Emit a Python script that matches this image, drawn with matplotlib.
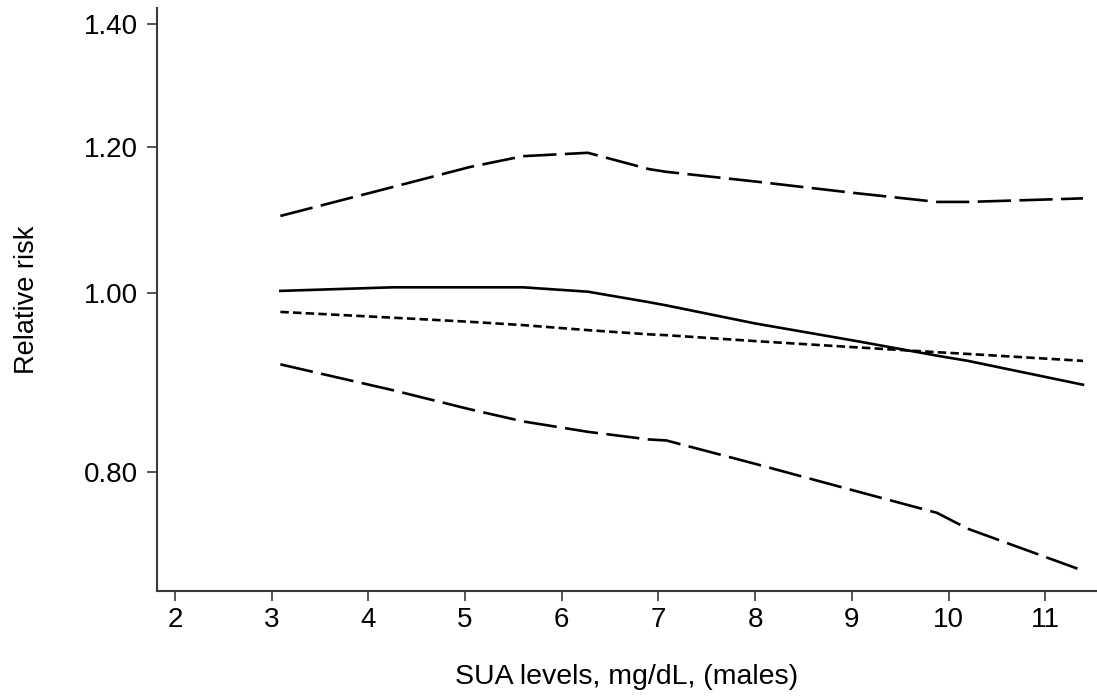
import numpy as np
import matplotlib.pyplot as plt
from matplotlib.ticker import FixedLocator, FixedFormatter, NullLocator

plt.rcParams['font.family'] = ['Liberation Sans', 'DejaVu Sans']

# SUA levels (mg/dL) at which the curves were read
sua = [3.09, 4.25, 5.05, 5.6, 6.27, 6.9, 7.08, 8.0, 9.0, 9.88, 10.2, 11.39]

# relative risk estimates
rr_spline = [1.003, 1.0075, 1.0075, 1.0075, 1.002, 0.989, 0.985, 0.963, 0.943, 0.925, 0.919, 0.892]
rr_linear = [0.977, 0.970, 0.965, 0.961, 0.955, 0.950, 0.949, 0.942, 0.935, 0.929, 0.927, 0.919]
ci_upper = [1.1015, 1.142, 1.171, 1.187, 1.192, 1.168, 1.164, 1.150, 1.134, 1.121, 1.121, 1.126]
ci_lower = [0.915, 0.886, 0.865, 0.852, 0.841, 0.833, 0.832, 0.808, 0.782, 0.760, 0.745, 0.707]

yticks = [0.80, 1.00, 1.20, 1.40]
ytick_labels = ["0.80", "1.00", "1.20", "1.40"]
xticks = list(range(2, 12))

fig = plt.figure(figsize=(10.97, 6.97), dpi=100)
ax = fig.add_axes([0.1431, 0.1525, 0.8569, 0.836])

lw = 1.9
ax.plot(sua, ci_upper, color='black', lw=lw, linestyle=(0, (12.6, 3.2)))
ax.plot(sua, rr_spline, color='black', lw=lw, linestyle='-')
ax.plot(sua, rr_linear, color='black', lw=lw, linestyle=(0, (3.2, 1.6)))
ax.plot(sua, ci_lower, color='black', lw=lw, linestyle=(0, (12.6, 3.2)))

ax.set_yscale('log')
ax.set_ylim(0.6895, 1.4285)
ax.set_xlim(1.814, 11.535)

ax.yaxis.set_major_locator(FixedLocator(yticks))
ax.yaxis.set_major_formatter(FixedFormatter(ytick_labels))
ax.yaxis.set_minor_locator(NullLocator())
ax.set_xticks(xticks)
ax.set_xticklabels([str(t) for t in xticks])

for side in ['top', 'right']:
    ax.spines[side].set_visible(False)
for side in ['left', 'bottom']:
    ax.spines[side].set_color('#3a3a3a')
    ax.spines[side].set_linewidth(1.5)

ax.tick_params(axis='both', colors='#3a3a3a', labelcolor='black', labelsize=20,
               length=7, width=1.2)
ax.tick_params(axis='x', pad=5)
ax.tick_params(axis='y', pad=7)

ax.set_xlabel("SUA levels, mg/dL, (males)", fontsize=20.5, labelpad=22)
ax.set_ylabel("Relative risk", fontsize=19.5, labelpad=31)

fig.savefig("out.png", dpi=100)
